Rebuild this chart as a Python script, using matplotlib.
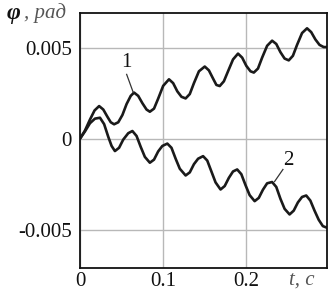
import matplotlib
matplotlib.use("Agg")
import matplotlib.pyplot as plt

# Curve 1 (t in s, phi in 1e-3 rad)
t1 = [0, 0.006, 0.012, 0.0175, 0.023, 0.028, 0.033, 0.037, 0.041, 0.046, 0.051, 0.056, 0.061,
      0.065, 0.070, 0.075, 0.080, 0.084, 0.089, 0.094, 0.100, 0.107, 0.112, 0.117, 0.122, 0.127,
      0.132, 0.137, 0.143, 0.150, 0.155, 0.160, 0.164, 0.168, 0.173, 0.178, 0.184, 0.190, 0.195,
      0.200, 0.205, 0.209, 0.214, 0.219, 0.225, 0.231, 0.236, 0.241, 0.246, 0.251, 0.256, 0.261,
      0.267, 0.273, 0.278, 0.283, 0.288, 0.293, 0.297]
phi1 = [0, 0.45, 1.05, 1.55, 1.79, 1.6, 1.2, 0.9, 0.79, 0.9, 1.3, 1.9, 2.35,
        2.53, 2.35, 1.95, 1.6, 1.48, 1.65, 2.2, 2.9, 3.26, 3.05, 2.6, 2.3, 2.21,
        2.45, 3.05, 3.7, 3.96, 3.75, 3.3, 2.95, 2.89, 3.15, 3.7, 4.35, 4.67, 4.45,
        4.0, 3.7, 3.63, 3.85, 4.45, 5.1, 5.38, 5.2, 4.75, 4.4, 4.30, 4.55, 5.15,
        5.8, 6.06, 5.85, 5.45, 5.15, 5.03, 5.03]

# Curve 2
t2 = [0, 0.006, 0.012, 0.018, 0.024, 0.029, 0.034, 0.038, 0.042, 0.047, 0.052, 0.058, 0.063,
      0.068, 0.073, 0.078, 0.084, 0.089, 0.094, 0.099, 0.105, 0.110, 0.115, 0.120, 0.127,
      0.132, 0.137, 0.142, 0.148, 0.153, 0.158, 0.163, 0.169, 0.174, 0.179, 0.184, 0.189,
      0.194, 0.199, 0.204, 0.210, 0.215, 0.220, 0.225, 0.231, 0.236, 0.241, 0.246, 0.252,
      0.257, 0.262, 0.267, 0.272, 0.277, 0.282, 0.287, 0.292, 0.297]
phi2 = [0, 0.4, 0.85, 1.1, 1.15, 0.8, 0.1, -0.4, -0.68, -0.5, -0.05, 0.3, 0.42,
        0.15, -0.45, -1.0, -1.32, -1.15, -0.7, -0.4, -0.27, -0.5, -1.1, -1.65, -2.02,
        -1.85, -1.4, -1.1, -0.96, -1.2, -1.8, -2.4, -2.79, -2.6, -2.15, -1.8, -1.69,
        -1.95, -2.55, -3.1, -3.43, -3.25, -2.8, -2.45, -2.38, -2.65, -3.3, -3.85, -4.16,
        -3.95, -3.5, -3.2, -3.12, -3.4, -3.95, -4.45, -4.8, -4.89]

xticks = [0, 0.1, 0.2]
xticklabels = ["0", "0.1", "0.2"]
yticks = [-0.005, 0, 0.005]
yticklabels = ["-0.005", "0", "0.005"]

serif = ["Liberation Serif", "DejaVu Serif"]
plt.rcParams["font.family"] = serif

fig = plt.figure(figsize=(3.35, 2.96), dpi=100)
ax = fig.add_axes([80/335, 28/296, 247/335, 255/296])

ax.plot(t1, [v*1e-3 for v in phi1], color="#1a1a1a", lw=1.9, solid_capstyle="round")
ax.plot(t2, [v*1e-3 for v in phi2], color="#1a1a1a", lw=1.9, solid_capstyle="round")

ax.set_xlim(0, 0.297)
ax.set_ylim(-0.0071, 0.0069)
ax.set_xticks(xticks)
ax.set_xticklabels(xticklabels)
ax.set_yticks(yticks)
ax.set_yticklabels(yticklabels)
ax.tick_params(length=0, labelsize=15, colors="#111111")
ax.tick_params(axis="x", pad=3)
ax.tick_params(axis="y", pad=6)
ax.grid(True, color="#b8b8b8", lw=1.0)
ax.set_axisbelow(True)
for s in ax.spines.values():
    s.set_color("#111111")
    s.set_linewidth(1.3)

# curve labels
ax.text(0.0552, 0.00419, "1", fontsize=15, ha="center", va="center", color="#111111")
ax.plot([0.0561, 0.064], [0.00353, 0.00254], color="#333333", lw=0.9)
ax.text(0.2509, -0.00119, "2", fontsize=15, ha="center", va="center", color="#111111")
ax.plot([0.244, 0.234], [-0.00169, -0.00235], color="#333333", lw=0.9)

# axis labels
fig.text(7/335, 1 - 13/296, "\u03c6", fontsize=17, fontweight="bold", fontstyle="italic",
         ha="left", va="center", color="#111111")
fig.text(24/335, 1 - 13/296, ", \u0440\u0430\u0434", fontsize=15, fontstyle="italic",
         ha="left", va="center", color="#555555")
fig.text(302/335, 1 - 280/296, "t, c", fontsize=15, fontstyle="italic",
         ha="center", va="center", color="#555555")

fig.savefig("out.png", dpi=100)
